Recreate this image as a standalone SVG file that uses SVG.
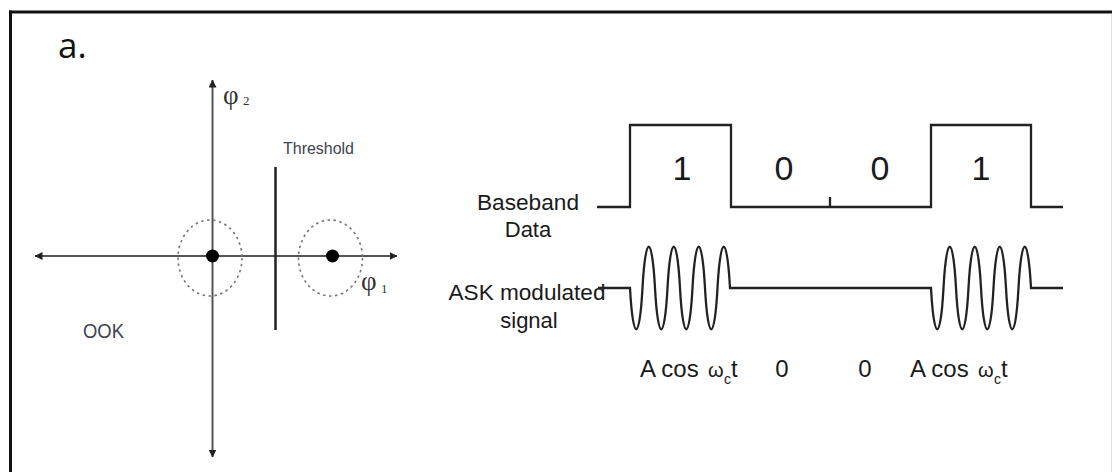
<svg xmlns="http://www.w3.org/2000/svg" width="1112" height="472" viewBox="0 0 1112 472">
  <style>
    .frame { stroke: #111; stroke-width: 3; fill: none; }
    .axis { stroke: #555; stroke-width: 2; fill: none; }
    .dotc { stroke: #777; stroke-width: 1.6; stroke-dasharray: 2.5 3.5; fill: none; }
    .thr { stroke: #222; stroke-width: 2.5; fill: none; }
    .wave { stroke: #222; stroke-width: 2.3; fill: none; stroke-linejoin: miter; }
    .lbl { font-family: "Liberation Sans", Arial, sans-serif; fill: #1a1a1a; }
    .gl { font-family: "Liberation Sans", Arial, sans-serif; fill: #3d4350; }
    .sym { font-family: "Liberation Serif", "Times New Roman", serif; fill: #333; }
  </style>
  <defs>
    <marker id="arr" viewBox="0 0 8 8" refX="7.5" refY="4" markerWidth="8" markerHeight="8" markerUnits="userSpaceOnUse" orient="auto-start-reverse">
      <path d="M0,0 L8,4 L0,8 z" fill="#222"/>
    </marker>
  </defs>
  <rect width="1112" height="472" fill="#fff"/>

  <g id="frame">
    <line class="frame" x1="9" y1="12" x2="1112" y2="12"/>
    <line class="frame" x1="10.5" y1="10.5" x2="10.5" y2="472"/>
    <line x1="1111.5" y1="14" x2="1111.5" y2="472" stroke="#e2e2e2" stroke-width="1"/>
  </g>

  <g id="label-a">
    <text x="58" y="58" font-family="'Open Sans', 'Liberation Sans', sans-serif" font-size="35" font-weight="500" fill="#111">a.</text>
  </g>

  <g id="connectors">
    <line class="axis" x1="35" y1="256" x2="397" y2="256" marker-start="url(#arr)" marker-end="url(#arr)"/>
    <line class="axis" x1="212.5" y1="457" x2="212.5" y2="80" marker-start="url(#arr)" marker-end="url(#arr)"/>
  </g>

  <g id="constellation">
    <ellipse class="dotc" cx="210" cy="258" rx="32" ry="38"/>
    <ellipse class="dotc" cx="330.5" cy="258" rx="32" ry="38"/>
    <circle cx="212.5" cy="256" r="6.5" fill="#000"/>
    <circle cx="332.5" cy="256" r="6.5" fill="#000"/>
    <line class="thr" x1="275.5" y1="167" x2="275.5" y2="330"/>
    <text class="gl" x="283" y="154" font-size="17" textLength="71" lengthAdjust="spacingAndGlyphs">Threshold</text>
    <text class="sym" x="223" y="104" font-size="27">φ<tspan x="243" y="105" font-size="13">2</tspan></text>
    <text class="sym" x="361" y="290" font-size="27">φ<tspan x="381" y="293" font-size="13">1</tspan></text>
    <text class="gl" x="83" y="338" font-size="20" textLength="41" lengthAdjust="spacingAndGlyphs">OOK</text>
  </g>

  <g id="baseband">
    <text class="lbl" x="528" y="210" font-size="22" text-anchor="middle" textLength="102" lengthAdjust="spacingAndGlyphs">Baseband</text>
    <text class="lbl" x="528" y="237" font-size="22" text-anchor="middle">Data</text>
    <path class="wave" d="M597 207 H630 V125 H731 V207 H830 V197 M830 207 H931 V125 H1031 V207 H1063"/>
    <text class="lbl" x="682" y="180" font-size="34" text-anchor="middle">1</text>
    <text class="lbl" x="784" y="180" font-size="34" text-anchor="middle">0</text>
    <text class="lbl" x="880" y="180" font-size="34" text-anchor="middle">0</text>
    <text class="lbl" x="981" y="180" font-size="34" text-anchor="middle">1</text>
  </g>

  <g id="ask-signal">
    <text class="lbl" x="527" y="300" font-size="22" text-anchor="middle" textLength="157" lengthAdjust="spacingAndGlyphs">ASK modulated</text>
    <text class="lbl" x="529" y="328" font-size="22" text-anchor="middle">signal</text>
    <path class="wave" d="M598 288 H630
      c3,55 9.5,55 12.5,0 c3,-55 9.5,-55 12.5,0
      c3,55 9.5,55 12.5,0 c3,-55 9.5,-55 12.5,0
      c3,55 9.5,55 12.5,0 c3,-55 9.5,-55 12.5,0
      c3,55 9.5,55 12.5,0 c3,-55 9.5,-55 12.5,0
      H931
      c3,55 9.5,55 12.5,0 c3,-55 9.5,-55 12.5,0
      c3,55 9.5,55 12.5,0 c3,-55 9.5,-55 12.5,0
      c3,55 9.5,55 12.5,0 c3,-55 9.5,-55 12.5,0
      c3,55 9.5,55 12.5,0 c3,-55 9.5,-55 12.5,0
      H1063"/>
  </g>

  <g id="symbol-labels">
    <text class="lbl" x="640" y="377" font-size="24">A cos<tspan x="708" font-size="20">ω</tspan><tspan x="724" y="384" font-size="14">c</tspan><tspan x="731" y="377" font-size="24">t</tspan></text>
    <text class="lbl" x="782" y="377" font-size="24" text-anchor="middle">0</text>
    <text class="lbl" x="865" y="377" font-size="24" text-anchor="middle">0</text>
    <text class="lbl" x="910" y="377" font-size="24">A cos<tspan x="978" font-size="20">ω</tspan><tspan x="994" y="384" font-size="14">c</tspan><tspan x="1001" y="377" font-size="24">t</tspan></text>
  </g>
</svg>
